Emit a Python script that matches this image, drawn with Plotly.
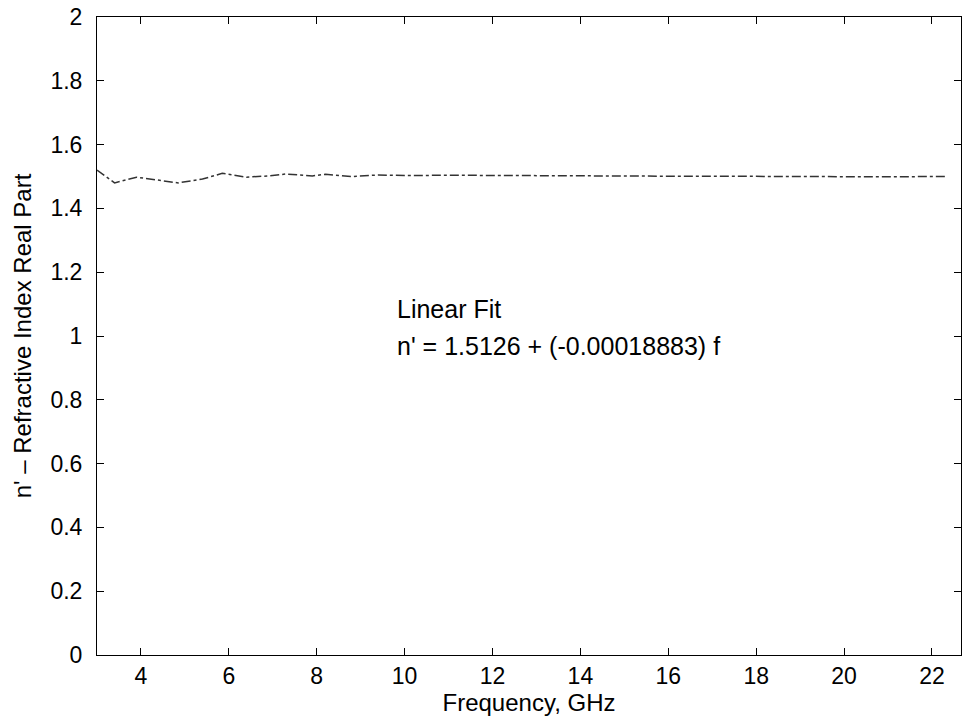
import plotly.graph_objects as go

# Data (frequency in GHz, n' real part)
freq = [3.0, 3.4, 3.9, 4.4, 4.85, 5.4, 5.85, 6.4, 6.9, 7.3, 7.9, 8.2, 8.8, 9.4,
        10.0, 11.0, 12.0, 13.0, 14.0, 15.0, 16.0, 17.0, 18.0, 19.0, 20.0, 21.0, 22.0, 22.3]
n_real = [1.52, 1.48, 1.498, 1.488, 1.48, 1.492, 1.51, 1.498, 1.502, 1.508, 1.502, 1.507, 1.50, 1.505,
          1.503, 1.504, 1.503, 1.502, 1.502, 1.502, 1.501, 1.501, 1.500, 1.500, 1.500, 1.499, 1.500, 1.500]
x_ticks = [4, 6, 8, 10, 12, 14, 16, 18, 20, 22]
y_ticks = [0, 0.2, 0.4, 0.6, 0.8, 1, 1.2, 1.4, 1.6, 1.8, 2]

font = "Liberation Sans, Arial, sans-serif"

fig = go.Figure()
fig.add_trace(go.Scatter(x=freq, y=n_real, mode="lines",
                         line=dict(color="#333333", width=1.5, dash="dashdot"),
                         showlegend=False))

fig.add_annotation(x=9.77, y=1.085, xref="x", yref="y", xanchor="left", yanchor="middle",
                   text="Linear Fit", showarrow=False, align="left",
                   font=dict(family=font, size=25, color="black"))
fig.add_annotation(x=9.77, y=0.97, xref="x", yref="y", xanchor="left", yanchor="middle",
                   text="n' = 1.5126 + (-0.00018883) f", showarrow=False, align="left",
                   font=dict(family=font, size=25, color="black"))

axis_common = dict(showline=True, linecolor="black", linewidth=1, mirror="ticks",
                   ticks="inside", ticklen=7, tickcolor="black", showgrid=False,
                   zeroline=False, automargin=False,
                   tickfont=dict(family=font, size=23, color="black"))

fig.update_xaxes(range=[3, 22.66], tickvals=x_ticks,
                 title=dict(text="Frequency, GHz", font=dict(family=font, size=24, color="black"),
                            standoff=2),
                 **axis_common)
fig.update_yaxes(range=[0, 2.0001], tickvals=y_ticks, ticklabelstandoff=9,
                 title=dict(text="n' – Refractive Index Real Part",
                            font=dict(family=font, size=24, color="black"), standoff=12),
                 **axis_common)

fig.update_layout(width=964, height=723, paper_bgcolor="white", plot_bgcolor="white",
                  margin=dict(l=97, r=3, t=17, b=68), font=dict(family=font))

# remove the browser's default 8px body margin so the figure sits at the window origin
fig.write_html("out.html", config={"displayModeBar": False},
               post_script="document.body.style.margin='0';document.body.style.overflow='hidden';")
